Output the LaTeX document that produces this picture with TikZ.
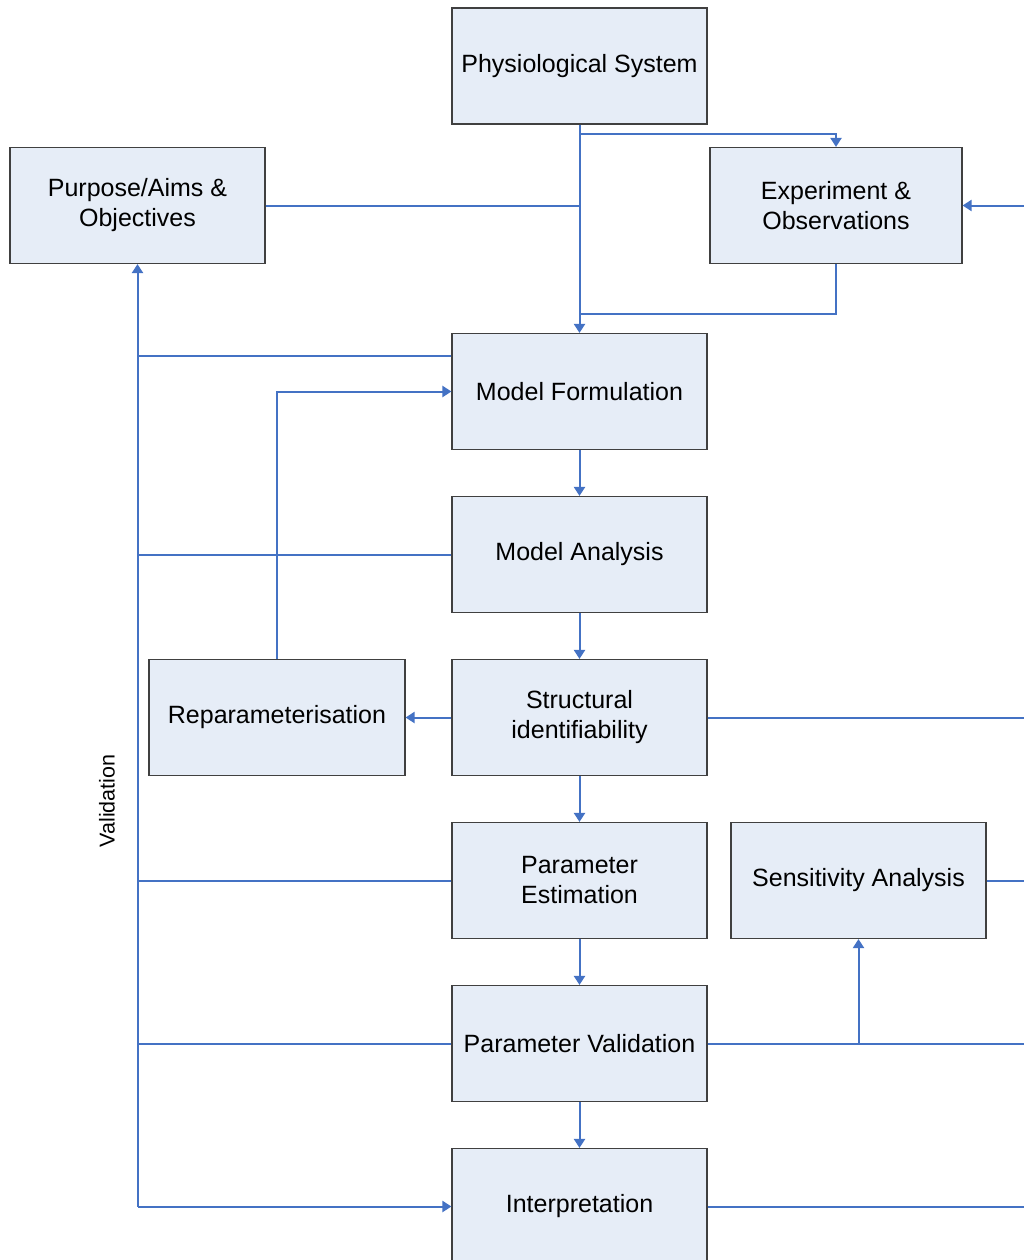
\documentclass[tikz,border=0pt]{standalone}
\usepackage{fontspec}
\setmainfont{Liberation Sans}
\usetikzlibrary{arrows.meta}
\definecolor{boxfill}{RGB}{230,237,247}
\definecolor{linkblue}{RGB}{68,114,196}
\begin{document}
\begin{tikzpicture}[x=1pt,y=-1pt,
  box/.style={draw=black!75, line width=1.1pt, fill=boxfill,
    minimum width=255pt, minimum height=116pt, align=center,
    font=\fontsize{25}{30}\selectfont, inner sep=0pt},
  link/.style={draw=linkblue, line width=2pt},
  arr/.style={link, -{Triangle[width=11pt,length=9pt]}}]
\clip (0,0) rectangle (1024,1260);

% process boxes
\node[box] (phys) at (579.5,66) {Physiological System};
\node[box] (purp) at (137.5,205.5) {Purpose/Aims \&\\Objectives};
\node[box, minimum width=252pt] (exp) at (836,205.5) {Experiment \&\\Observations};
\node[box] (mf) at (579.5,391.5) {Model Formulation};
\node[box] (ma) at (579.5,554.5) {Model Analysis};
\node[box, minimum width=256pt] (rep) at (277,717.5) {Reparameterisation};
\node[box] (st) at (579.5,717.5) {Structural\\identifiability};
\node[box] (pe) at (579.5,880.5) {Parameter\\Estimation};
\node[box] (sens) at (858.5,880.5) {Sensitivity Analysis};
\node[box] (pv) at (579.5,1043.5) {Parameter Validation};
\node[box] (interp) at (579.5,1206.5) {Interpretation};

\node[rotate=90, font=\fontsize{21.5}{24}\selectfont] (vlab) at (107,801) {Validation};

% junction points and the right-hand feedback bus
\coordinate (split) at (579.5,134);
\coordinate (merge) at (579.5,314);
\coordinate (rb) at (1034,0);

% main chain
\draw[arr] (phys.south) -- (mf.north);
\draw[arr] (split) -| (exp.north);
\draw[link] (purp.east) -- (purp.east -| mf.north);
\draw[link] (exp.south) |- (merge);
\draw[arr] (mf.south) -- (ma.north);
\draw[arr] (ma.south) -- (st.north);
\draw[arr] (st.south) -- (pe.north);
\draw[arr] (pe.south) -- (pv.north);
\draw[arr] (pv.south) -- (interp.north);

% reparameterisation loop
\draw[arr] (st.west) -- (rep.east);
\draw[arr] (rep.north) |- (mf.west);

% validation bus on the left
\draw[arr] (interp.west -| purp.south) -- (purp.south);
\draw[arr] (interp.west -| purp.south) -- (interp.west);
\draw[link] ([yshift=35.5pt]mf.west) -- ([yshift=35.5pt]mf.west -| purp.south);
\draw[link] (ma.west) -- (ma.west -| purp.south);
\draw[link] (pe.west) -- (pe.west -| purp.south);
\draw[link] (pv.west) -- (pv.west -| purp.south);

% sensitivity branch
\draw[arr] (pv.east) -| (sens.south);

% feedback bus on the right
\draw[link] (interp.east) -- (interp.east -| rb);
\draw[link] (pv.east) -- (pv.east -| rb);
\draw[link] (sens.east) -- (sens.east -| rb);
\draw[link] (st.east) -- (st.east -| rb);
\draw[link] (rb |- interp.east) -- (rb |- exp.east);
\draw[arr] (rb |- exp.east) -- (exp.east);
\end{tikzpicture}
\end{document}
